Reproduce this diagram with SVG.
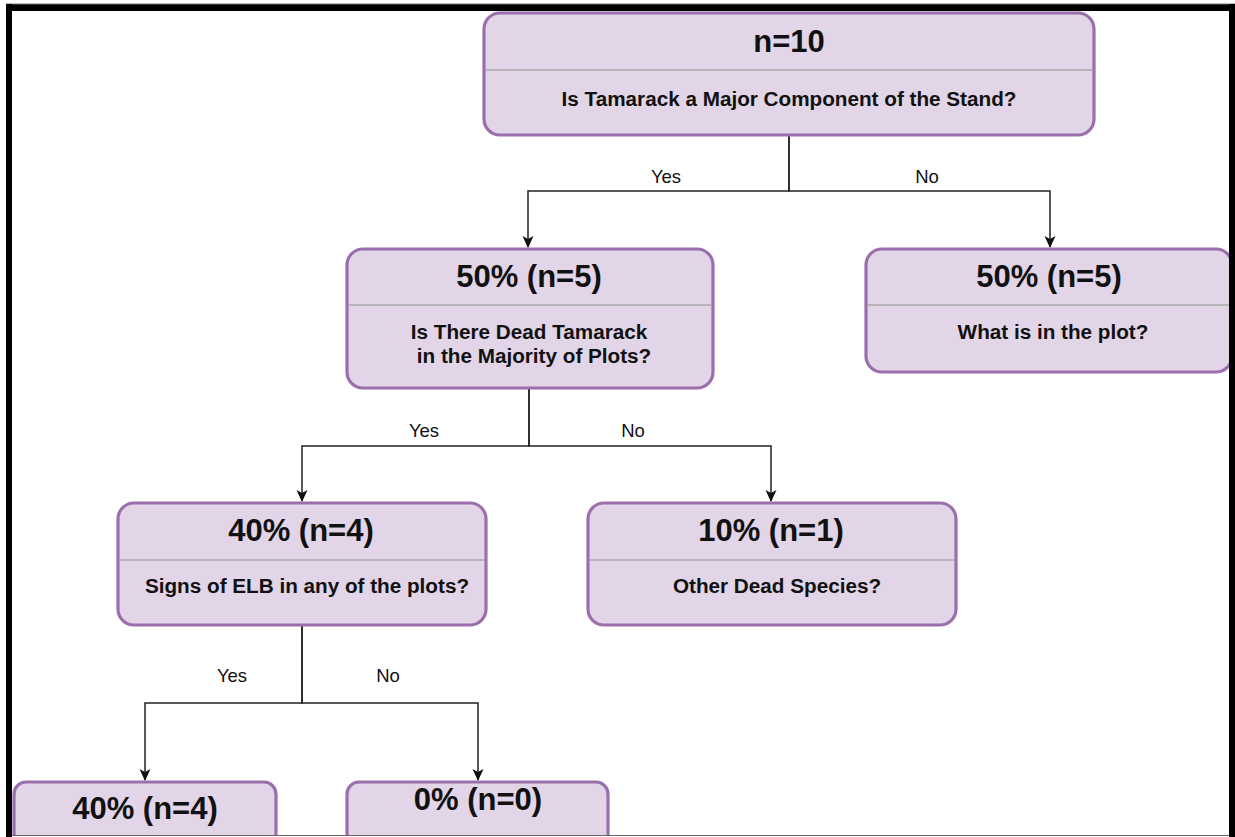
<svg xmlns="http://www.w3.org/2000/svg" width="1235" height="837" viewBox="0 0 1235 837">
<defs>
<marker id="arr" viewBox="0 0 12 12" refX="11" refY="6" markerWidth="12" markerHeight="12" markerUnits="userSpaceOnUse" orient="auto">
<path d="M0,0.5 L12,6 L0,11.5 L3,6 Z" fill="#111"/>
</marker>
</defs>
<style>
.box{fill:#e1d5e7;stroke:#9b6fac;stroke-width:3.2}
.div{stroke:#a8a8a8;stroke-width:1.6}
.t{font-family:"Liberation Sans",Arial,sans-serif;font-weight:bold;font-size:31px;fill:#111;text-anchor:middle}
.s{font-family:"Liberation Sans",Arial,sans-serif;font-weight:bold;font-size:20.7px;fill:#111;text-anchor:middle}
.l{font-family:"Liberation Sans",Arial,sans-serif;font-size:18.5px;fill:#111;text-anchor:middle}
.e{fill:none;stroke:#222;stroke-width:1.5}
</style>
<rect x="0" y="0" width="1235" height="837" fill="#ffffff"/>
<g id="connectors">
<path class="e" d="M789,135 V191 H528 V247" marker-end="url(#arr)"/>
<path class="e" d="M789,135 V191 H1050 V247" marker-end="url(#arr)"/>
<path class="e" d="M529,388 V446 H302 V501" marker-end="url(#arr)"/>
<path class="e" d="M529,388 V446 H771 V501" marker-end="url(#arr)"/>
<path class="e" d="M302,625 V703 H145 V780" marker-end="url(#arr)"/>
<path class="e" d="M302,625 V703 H478 V780" marker-end="url(#arr)"/>
<text class="l" x="666" y="183">Yes</text>
<text class="l" x="927" y="183">No</text>
<text class="l" x="424" y="437">Yes</text>
<text class="l" x="633" y="437">No</text>
<text class="l" x="232" y="682">Yes</text>
<text class="l" x="388" y="682">No</text>
</g>
<g id="node-root">
<rect class="box" x="484" y="13" width="610" height="122" rx="16"/>
<line class="div" x1="486" y1="70" x2="1092" y2="70"/>
<text class="t" x="789" y="52">n=10</text>
<text class="s" x="789" y="106">Is Tamarack a Major Component of the Stand?</text>
</g>
<g id="node-yes1">
<rect class="box" x="347" y="249" width="366" height="139" rx="16"/>
<line class="div" x1="349" y1="305" x2="711" y2="305"/>
<text class="t" x="529" y="287">50% (n=5)</text>
<text class="s" x="529" y="339">Is There Dead Tamarack</text>
<text class="s" x="534" y="363">in the Majority of Plots?</text>
</g>
<g id="node-no1">
<rect class="box" x="866" y="249" width="366" height="123" rx="16"/>
<line class="div" x1="868" y1="305" x2="1230" y2="305"/>
<text class="t" x="1049" y="287">50% (n=5)</text>
<text class="s" x="1053" y="339">What is in the plot?</text>
</g>
<g id="node-yes2">
<rect class="box" x="118" y="503" width="368" height="122" rx="16"/>
<line class="div" x1="120" y1="560" x2="484" y2="560"/>
<text class="t" x="301" y="541">40% (n=4)</text>
<text class="s" x="307" y="593">Signs of ELB in any of the plots?</text>
</g>
<g id="node-no2">
<rect class="box" x="588" y="503" width="368" height="122" rx="16"/>
<line class="div" x1="590" y1="560" x2="954" y2="560"/>
<text class="t" x="771" y="541">10% (n=1)</text>
<text class="s" x="777" y="593">Other Dead Species?</text>
</g>
<g id="node-yes3">
<rect class="box" x="14" y="782" width="262" height="90" rx="12"/>
<text class="t" x="145" y="819">40% (n=4)</text>
</g>
<g id="node-no3">
<rect class="box" x="347" y="782" width="261" height="90" rx="12"/>
<text class="t" x="478" y="810">0% (n=0)</text>
</g>
<g id="frame">
<rect x="6" y="4" width="1229" height="7" fill="#000"/>
<line x1="6" y1="4" x2="1235" y2="4" stroke="#777" stroke-width="1"/>
<rect x="6" y="4" width="6" height="833" fill="#000"/>
<rect x="1229" y="4" width="6" height="833" fill="#000"/>
<rect x="12" y="836" width="1217" height="1" fill="#ffffff"/>
<line x1="12" y1="835.5" x2="1229" y2="835.5" stroke="#666" stroke-width="1"/>
</g>
</svg>
